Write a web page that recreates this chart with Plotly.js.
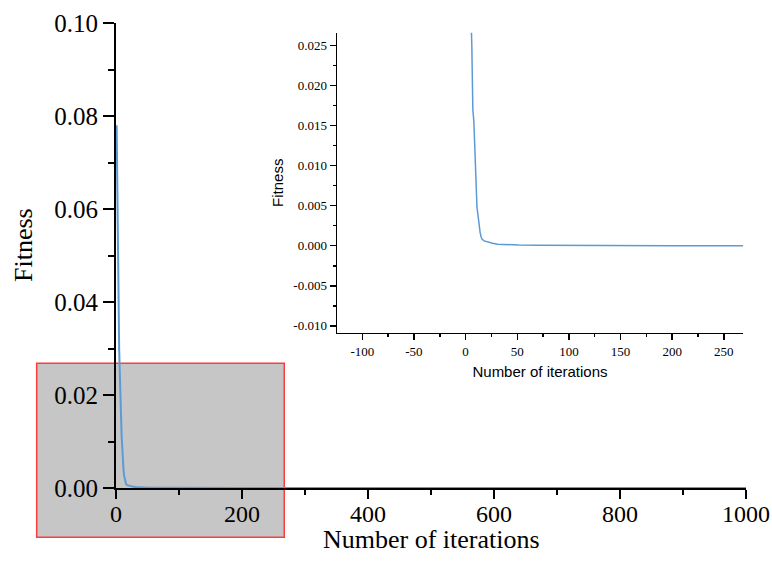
<!DOCTYPE html>
<html>
<head>
<meta charset="utf-8">
<script src="https://cdn.plot.ly/plotly-3.0.1.min.js"></script>
<style>html,body{margin:0;padding:0;background:#fff;}#chart{width:772px;height:562px;}</style>
</head>
<body>
<div id="chart"></div>
<script>
// Data
const iterations = [1,2,3,4,5,6,7,8,9,10,11,12,13,14,15,16,18,21,26,31,41,51,71,95,100,200,400,600,800,1000];
const fitness = [0.078,0.062,0.045,0.036,0.030,0.025,0.017,0.0155,0.011,0.0075,0.0048,0.0038,0.0026,0.0017,0.0011,0.0008,0.0006,0.00045,0.0003,0.0002,0.00012,0.00008,0.00005,0.00003,0.000005,0.000003,0.000002,0,0,0];

const mainXTicks = [0,200,400,600,800,1000];
const mainXLabels = ['0','200','400','600','800','1000'];
const mainYTicks = [0,0.02,0.04,0.06,0.08,0.10];
const mainYLabels = ['0.00','0.02','0.04','0.06','0.08','0.10'];
const insetXTicks = [-100,-50,0,50,100,150,200,250];
const insetXLabels = ['-100','-50','0','50','100','150','200','250'];
const insetYTicks = [-0.010,-0.005,0,0.005,0.010,0.015,0.020,0.025];
const insetYLabels = ['-0.010','-0.005','0.000','0.005','0.010','0.015','0.020','0.025'];

const xTitle = 'Number of iterations';
const yTitle = 'Fitness';

const lineColor = '#5b9bd5';
const serif = 'Liberation Serif';
const sans = 'Liberation Sans';

const traces = [
  {x: iterations, y: fitness, type: 'scatter', mode: 'lines', line: {color: lineColor, width: 2}, xaxis: 'x', yaxis: 'y', hoverinfo: 'skip'},
  {x: iterations, y: fitness, type: 'scatter', mode: 'lines', line: {color: lineColor, width: 1.5}, xaxis: 'x2', yaxis: 'y2', hoverinfo: 'skip'}
];

const layout = {
  width: 772, height: 562,
  margin: {l: 116, r: 26, t: 23, b: 74},
  paper_bgcolor: '#ffffff',
  plot_bgcolor: 'rgba(0,0,0,0)',
  showlegend: false,
  xaxis: {
    domain: [0, 1], range: [0, 1000], anchor: 'y',
    tickmode: 'array', tickvals: mainXTicks, ticktext: mainXLabels,
    ticks: 'outside', ticklen: 9, tickwidth: 2, tickcolor: '#000',
    ticklabelstandoff: -6,
    minor: {ticks: 'outside', tick0: 0, dtick: 100, ticklen: 5, tickwidth: 2, tickcolor: '#000'},
    showline: true, linecolor: '#000', linewidth: 2,
    showgrid: false, zeroline: false,
    tickfont: {family: serif, size: 24, color: '#000'}
  },
  yaxis: {
    domain: [0, 1], range: [0, 0.10], anchor: 'x',
    tickmode: 'array', tickvals: mainYTicks, ticktext: mainYLabels,
    ticks: 'outside', ticklen: 11, tickwidth: 2, tickcolor: '#000',
    minor: {ticks: 'outside', tick0: 0, dtick: 0.01, ticklen: 6, tickwidth: 2, tickcolor: '#000'},
    showline: true, linecolor: '#000', linewidth: 2,
    showgrid: false, zeroline: false,
    tickfont: {family: serif, size: 25, color: '#000'}
  },
  xaxis2: {
    domain: [0.3508, 0.9952], range: [-124.5, 268.5], anchor: 'y2',
    tickmode: 'array', tickvals: insetXTicks, ticktext: insetXLabels,
    ticks: 'outside', ticklen: 6, tickwidth: 1.5, tickcolor: '#000',
    minor: {ticks: 'outside', tick0: 0, dtick: 25, ticklen: 3, tickwidth: 1.5, tickcolor: '#000'},
    showline: true, linecolor: '#000', linewidth: 1.5,
    showgrid: false, zeroline: false,
    tickfont: {family: serif, size: 13, color: '#000'},
    title: {text: xTitle, font: {family: sans, size: 15, color: '#000'}, standoff: 8}
  },
  yaxis2: {
    domain: [0.334, 0.979], range: [-0.01086, 0.0266], anchor: 'x2',
    tickmode: 'array', tickvals: insetYTicks, ticktext: insetYLabels,
    ticks: 'outside', ticklen: 6, tickwidth: 1.5, tickcolor: '#000',
    minor: {ticks: 'outside', tick0: 0, dtick: 0.0025, ticklen: 3, tickwidth: 1.5, tickcolor: '#000'},
    showline: true, linecolor: '#000', linewidth: 1.5,
    showgrid: false, zeroline: false,
    tickfont: {family: serif, size: 13, color: '#000'},
    title: {text: yTitle, font: {family: sans, size: 15, color: '#000'}, standoff: 6}
  },
  shapes: [
    {type: 'rect', xref: 'paper', yref: 'paper', x0: -0.1259, x1: 0.2671, y0: -0.106, y1: 0.2682,
     fillcolor: '#c6c6c6', line: {color: '#ff3b3b', width: 1.5}, layer: 'below'}
  ],
  annotations: [
    {text: xTitle, xref: 'paper', yref: 'paper', x: 0.5, y: -0.1118, xanchor: 'center', yanchor: 'middle',
     showarrow: false, font: {family: serif, size: 26, color: '#000'}},
    {text: yTitle, xref: 'paper', yref: 'paper', x: -0.146, y: 0.5226, xanchor: 'center', yanchor: 'middle',
     textangle: -90, showarrow: false, font: {family: serif, size: 26, color: '#000'}}
  ]
};

Plotly.newPlot('chart', traces, layout, {staticPlot: true, displayModeBar: false});
</script>
</body>
</html>
